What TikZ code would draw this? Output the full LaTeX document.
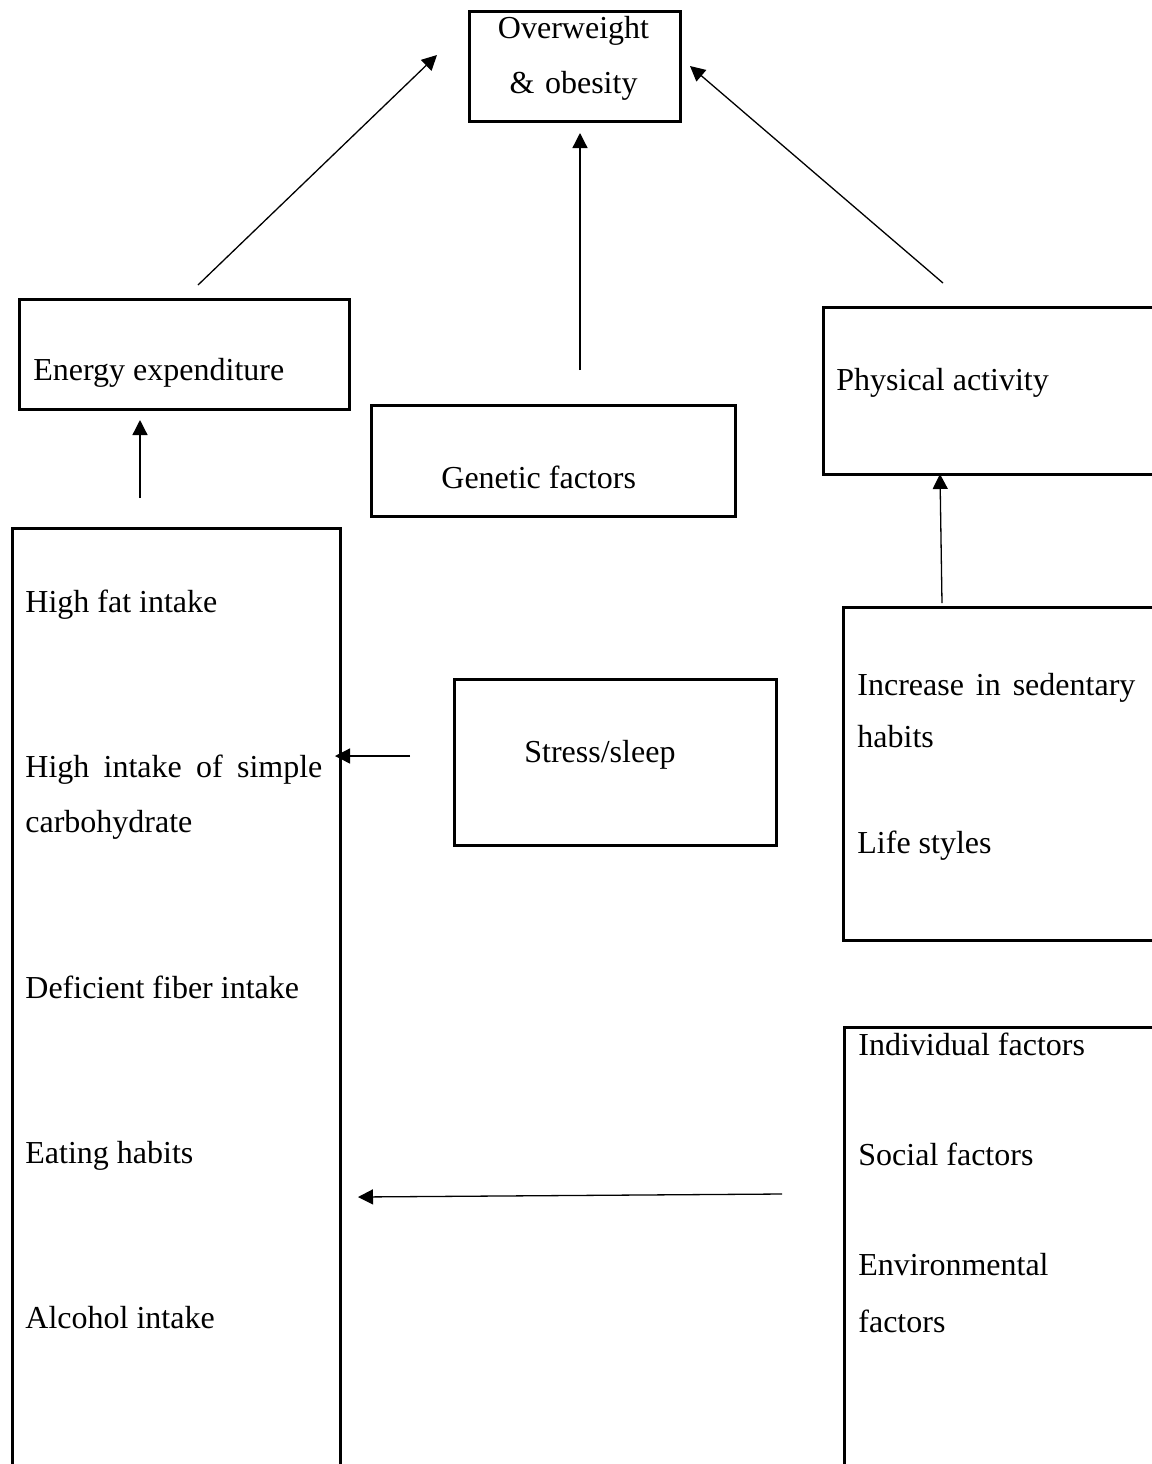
\documentclass[tikz,border=0pt]{standalone}
\usepackage{fontspec}
\setmainfont{Liberation Serif}
\usetikzlibrary{arrows.meta}
\tikzset{
  factorbox/.style={draw, line width=1.4pt, anchor=north west, inner sep=0pt},
  itemtext/.style={anchor=base west, inner sep=0pt, font=\fontsize{16}{27.5}\selectfont},
  link/.style={line width=0.65pt, -{Triangle[length=7.5pt,width=7.5pt]}},
}

\begin{document}
\begin{tikzpicture}[x=0.5pt,y=-0.5pt]
        \useasboundingbox (0,0) rectangle (1152,1464);
        \clip (0,0) rectangle (1152,1464);

        % boxes
        \node[factorbox, minimum width=105.5pt, minimum height=55pt] (obesity) at (468,10) {};
        \node[factorbox, minimum width=165pt, minimum height=55pt] (energy) at (18,298) {};
        \node[factorbox, minimum width=182pt, minimum height=55.5pt] (genetic) at (370,404) {};
        \node[factorbox, minimum width=180pt, minimum height=83.5pt] (physical) at (822,306) {};
        \node[factorbox, minimum width=164pt, minimum height=500pt] (diet) at (11,527) {};
        \node[factorbox, minimum width=161pt, minimum height=83pt] (stress) at (453,678) {};
        \node[factorbox, minimum width=170pt, minimum height=166.5pt] (sedentary) at (842,606) {};
        \node[factorbox, minimum width=170pt, minimum height=250pt] (social) at (843,1026) {};

        % texts
        \node[itemtext, anchor=base, text width=100pt, align=center] (obesityT) at (573.5,38) {Overweight\\\& obesity};
        \node[itemtext] (energyT) at (33,380) {Energy expenditure};
        \node[itemtext] (geneticT) at (441,488) {Genetic factors};
        \node[itemtext] (physicalT) at (836,390) {Physical activity};
        \node[itemtext] (stressT) at (524,762) {Stress/sleep};

        \foreach \y/\t [count=\i] in {612/High fat intake, 998/Deficient fiber intake, 1163/Eating habits, 1328/Alcohol intake}{
          \node[itemtext] (dietT\i) at (25,\y) {\t};
        }
        \node[itemtext, text width=148.5pt, align=justify] (dietC) at (25,777) {High intake of simple carbohydrate};

        \node[itemtext, text width=139pt, align=justify, font=\fontsize{16}{26}\selectfont] (sedentaryT) at (857,695) {Increase in sedentary habits};
        \node[itemtext] (lifeT) at (857,853) {Life styles};

        \node[itemtext] (socialT1) at (858,1055) {Individual factors};
        \node[itemtext] (socialT2) at (858,1165) {Social factors};
        \node[itemtext, text width=140pt, align=left, font=\fontsize{16}{28.5}\selectfont] (socialT3) at (858,1275) {Environmental\\factors};

        % arrow ends
        \coordinate (a1) at (198,285);  \coordinate (b1) at (437,55);
        \coordinate (a2) at (580,370);  \coordinate (b2) at (580,133);
        \coordinate (a3) at (943,283);  \coordinate (b3) at (690,66);
        \coordinate (a4) at (140,498);  \coordinate (b4) at (140,420);
        \coordinate (a5) at (942,603);  \coordinate (b5) at (940,474);
        \coordinate (a6) at (410,756);  \coordinate (b6) at (335,756);
        \coordinate (a7) at (782,1194); \coordinate (b7) at (358,1197);

        \foreach \k in {1,...,7}{
          \draw[link] (a\k) -- (b\k);
        }
    \end{tikzpicture}
\end{document}
